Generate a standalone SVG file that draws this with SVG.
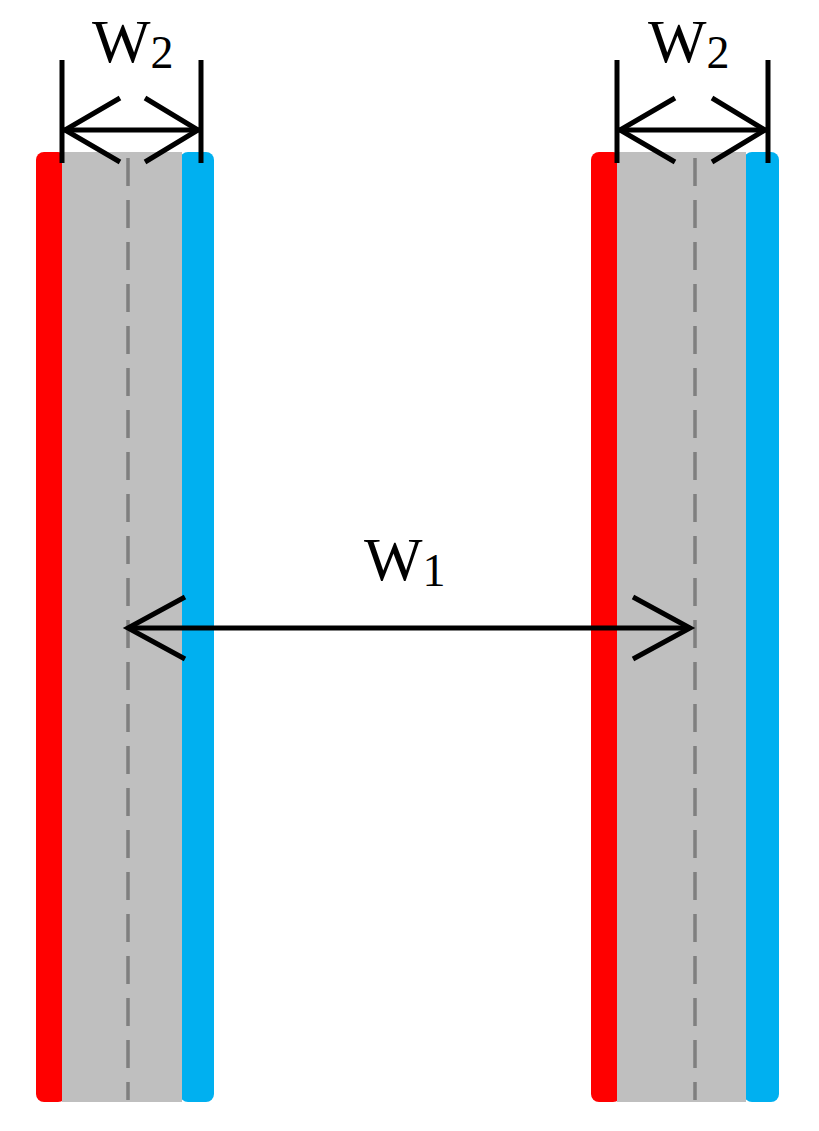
<svg xmlns="http://www.w3.org/2000/svg" width="819" height="1131" viewBox="0 0 819 1131">
<style>
.red{fill:#ff0000}.blue{fill:#00b0f0}.gray{fill:#bfbfbf}
.dash{stroke:#7f7f7f;stroke-width:3.5;stroke-dasharray:28 14;fill:none}
.k{stroke:#000;stroke-width:5;fill:none;stroke-linecap:butt}
.t{font-family:"Liberation Serif",serif;font-size:62px;fill:#000}
.s{font-size:46px}
</style>
<rect width="819" height="1131" fill="#fff"/>
<g id="left-strip">
<rect class="red" x="36" y="152" width="30" height="950" rx="8"/>
<rect class="blue" x="180" y="152" width="34" height="950" rx="8"/>
<rect class="gray" x="62" y="152" width="120" height="950"/>
<line class="dash" x1="128" y1="158" x2="128" y2="1100"/>
</g>
<g id="right-strip">
<rect class="red" x="591" y="152" width="30" height="950" rx="8"/>
<rect class="blue" x="744" y="152" width="35" height="950" rx="8"/>
<rect class="gray" x="617" y="152" width="129" height="950"/>
<line class="dash" x1="695" y1="158" x2="695" y2="1100"/>
</g>
<g id="connectors">
<line class="k" x1="62" y1="60" x2="62" y2="163"/>
<line class="k" x1="201" y1="60" x2="201" y2="163"/>
<line class="k" x1="64" y1="130" x2="199" y2="130"/>
<polyline class="k" points="120,98 65,130 120,162"/>
<polyline class="k" points="145,98 198,130 145,162"/>
<line class="k" x1="617" y1="60" x2="617" y2="163"/>
<line class="k" x1="768" y1="60" x2="768" y2="163"/>
<line class="k" x1="619" y1="130" x2="766" y2="130"/>
<polyline class="k" points="675,98 620,130 675,162"/>
<polyline class="k" points="712,98 765,130 712,162"/>
<line class="k" x1="128" y1="628" x2="690" y2="628"/>
<polyline class="k" points="185,597 128,628 185,659"/>
<polyline class="k" points="633,597 690,628 633,659"/>
</g>
<g id="labels">
<text class="t" x="92" y="62">W<tspan class="s" dy="6">2</tspan></text>
<text class="t" x="648" y="62">W<tspan class="s" dy="6">2</tspan></text>
<text class="t" x="364" y="580">W<tspan class="s" dy="6">1</tspan></text>
</g>
</svg>
